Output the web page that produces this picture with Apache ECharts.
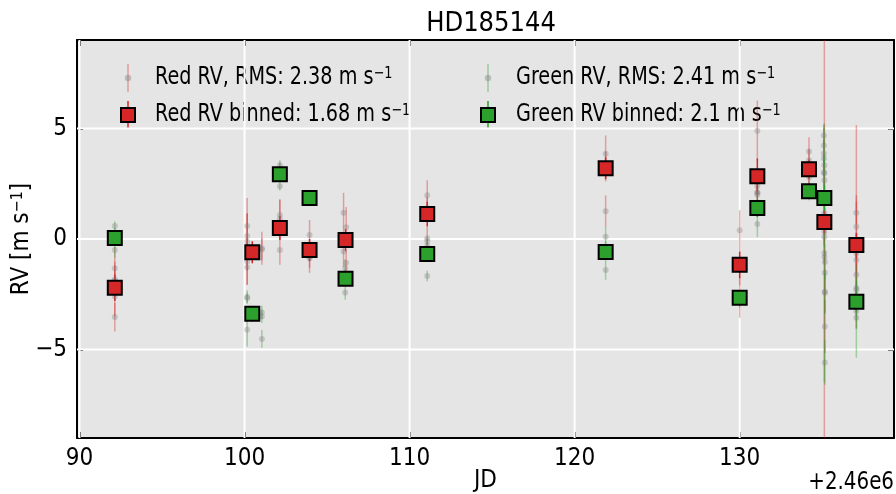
<!DOCTYPE html>
<html>
<head>
<meta charset="utf-8">
<script src="https://cdn.jsdelivr.net/npm/echarts@6/dist/echarts.min.js"></script>
<style>
  html, body { margin: 0; padding: 0; background: #ffffff; }
  #chart { width: 896px; height: 494px; }
</style>
</head>
<body>
<div id="chart"></div>
<script>
// Individual red-channel RVs: JD (minus 2.46e6), RV [m/s], 1-sigma error
const redJD = [92.14, 92.14, 92.14, 92.14, 92.14,
  100.16, 100.16, 100.16, 100.16, 100.16, 101.05, 101.05,
  102.14, 102.14, 102.14, 103.94, 103.94, 103.94,
  106.0, 106.0, 106.16, 106.16, 111.07, 111.07, 111.07,
  121.88, 121.88, 121.88, 121.88, 130.0, 130.0, 130.0,
  131.07, 131.07, 131.07, 131.07, 134.2, 134.2, 134.2, 134.2,
  135.1, 135.1, 135.1, 135.13, 135.13, 135.13, 135.13, 135.13, 135.16, 135.16, 135.16, 135.16,
  137.07, 137.07, 137.07, 137.07, 137.07, 137.07];
const redRV = [-1.32, -1.82, -2.6, -3.53, -1.9,
  0.59, 0.14, -0.12, -1.02, -1.28, -0.42, -0.47,
  1.08, -0.5, 0.9, 0.18, -0.87, -0.8,
  1.19, -0.57, 0.53, -1.07, 1.98, 1.4, 0.03,
  3.86, 3.35, 3.1, 1.26, 0.4, -1.3, -2.6,
  4.9, 2.4, 2.0, 2.1, 3.96, 3.56, 2.79, 2.3,
  4.68, 3.65, 3.02, 2.66, 1.17, 0.54, 0.09, -0.81, -1.53, -2.43, -3.96, 0.8,
  1.19, 0.55, -0.35, -0.65, -0.95, -1.62];
const redErr = [0.97, 0.8, 0.9, 0.65, 0.7,
  1.26, 1.0, 1.3, 1.05, 0.8, 0.75, 0.5,
  0.7, 0.67, 0.9, 0.68, 0.66, 0.5,
  0.9, 0.7, 0.92, 0.6, 0.68, 0.5, 0.6,
  0.82, 0.6, 0.5, 0.71, 0.9, 0.8, 0.96,
  1.36, 0.51, 0.5, 0.3, 0.64, 0.5, 0.5, 0.4,
  0.5, 0.8, 0.6, 0.7, 0.9, 0.8, 1.2, 10.5, 1.0, 0.9, 1.2, 0.6,
  0.5, 4.6, 0.6, 2.63, 0.7, 0.8];

// Individual green-channel RVs
const greenJD = [92.14, 92.14, 92.14,
  100.16, 100.16, 100.16, 101.05, 101.05, 101.05,
  102.14, 102.14, 102.14, 103.94, 103.94,
  106.1, 106.1, 106.1, 111.07, 111.07, 111.07,
  121.88, 121.88, 121.88, 130.0, 130.0,
  131.07, 131.07, 131.07, 134.2, 134.2, 134.2,
  135.1, 135.1, 135.13, 135.13, 135.13, 135.13, 135.13, 135.16, 135.16, 135.16,
  137.07, 137.07, 137.07, 137.07, 137.07, 137.07];
const greenRV = [0.59, -0.5, 0.1,
  -2.67, -2.62, -4.1, -3.32, -3.5, -4.52,
  3.33, 2.39, 3.05, 1.9, 1.8,
  -1.32, -2.42, -1.7, -1.67, -0.3, -0.1,
  0.1, -1.4, -0.5, -2.66, -2.7,
  0.68, 1.4, 2.1, 2.16, 2.0, 2.3,
  4.23, 3.87, 3.33, 2.97, 1.89, 0.32, -0.63, -1.04, -2.39, -5.59,
  -2.22, -2.6, -3.05, -3.27, -3.56, -2.3];
const greenErr = [0.2, 0.35, 0.4,
  0.24, 0.3, 0.76, 0.3, 0.3, 0.4,
  0.23, 0.2, 0.4, 0.15, 0.2,
  0.4, 0.33, 0.3, 0.25, 0.3, 0.2,
  0.45, 0.45, 0.4, 0.3, 0.4,
  0.6, 0.4, 0.3, 0.3, 0.25, 0.3,
  0.8, 0.6, 0.5, 0.7, 0.5, 0.7, 5.85, 0.8, 1.0, 1.0,
  0.5, 0.5, 0.6, 2.1, 0.5, 0.4];

// Nightly binned RVs
const binJD = [92.14, 100.47, 102.14, 103.94, 106.12, 111.07, 121.88, 130.0, 131.07, 134.2, 135.13, 137.07];
const redBinRV = [-2.2, -0.6, 0.5, -0.5, -0.05, 1.13, 3.2, -1.17, 2.84, 3.15, 0.77, -0.27];
const redBinErr = [0.6, 0.5, 0.55, 0.5, 0.5, 0.55, 0.5, 0.6, 0.8, 0.45, 0.5, 0.55];
const greenBinRV = [0.05, -3.38, 2.93, 1.85, -1.8, -0.68, -0.59, -2.66, 1.4, 2.16, 1.85, -2.84];
const greenBinErr = [0.3, 0.35, 0.3, 0.2, 0.3, 0.3, 0.35, 0.3, 0.4, 0.3, 0.6, 0.45];

// Axis ranges and ticks
const xRange = [89.85, 139.35];
const yRange = [-9, 9];
const xTicks = [90, 100, 110, 120, 130];
const yTicks = [-5, 0, 5];

const FONT = "'DejaVu Sans Condensed', 'DejaVu Sans', sans-serif";
const RED = '#d62728';
const GREEN = '#2ca02c';
const RED_ERR = 'rgba(214,39,40,0.38)';
const GREEN_ERR = 'rgba(44,160,44,0.38)';
const DOT = 'rgba(128,128,128,0.42)';

const triples = (xs, ys, es) => xs.map((x, i) => [x, ys[i], es[i]]);
const pairs = (xs, ys) => xs.map((x, i) => [x, ys[i]]);

function errorBars(color, width) {
  return function (params, api) {
    const x = api.value(0), y = api.value(1), e = api.value(2);
    const a = api.coord([x, y - e]);
    const b = api.coord([x, y + e]);
    return {
      type: 'line',
      shape: { x1: a[0], y1: a[1], x2: b[0], y2: b[1] },
      style: { stroke: color, lineWidth: width }
    };
  };
}

// white grid lines at the major ticks
function gridLine(params, api) {
  const a = api.coord([api.value(0), api.value(1)]);
  const b = api.coord([api.value(2), api.value(3)]);
  return {
    type: 'line',
    shape: { x1: a[0], y1: a[1], x2: b[0], y2: b[1] },
    style: { stroke: '#ffffff', lineWidth: 2 }
  };
}
const gridData = xTicks.map(v => [v, yRange[0], v, yRange[1]])
  .concat(yTicks.map(v => [xRange[0], v, xRange[1], v]));

const minus = v => String(v).replace('-', '\u2212');

const axisBase = {
  axisLine: { show: true, onZero: false, lineStyle: { color: '#000', width: 2 } },
  axisTick: { show: true, inside: true, length: 6, lineStyle: { color: '#000', width: 2 } },
  splitLine: { show: false }
};

function legendText(x, y, main) {
  return {
    type: 'text', x: x, y: y, scaleX: 0.89,
    style: {
      text: '{t|' + main + '}{s|\u22121}',
      verticalAlign: 'middle', align: 'left',
      rich: {
        t: { fontSize: 24, fontFamily: FONT, fill: '#000' },
        s: { fontSize: 16, fontFamily: FONT, fill: '#000', verticalAlign: 'top' }
      }
    }
  };
}

function legendPoint(cx, cy, errColor) {
  return [
    { type: 'line', shape: { x1: cx, y1: cy - 14, x2: cx, y2: cy + 14 }, style: { stroke: errColor, lineWidth: 1.5 } },
    { type: 'circle', shape: { cx: cx, cy: cy, r: 3.2 }, style: { fill: DOT } }
  ];
}

function legendBin(cx, cy, fill) {
  return [
    { type: 'line', shape: { x1: cx, y1: cy - 14, x2: cx, y2: cy + 14 }, style: { stroke: fill, lineWidth: 1.5 } },
    { type: 'rect', shape: { x: cx - 7, y: cy - 7, width: 14, height: 14 }, style: { fill: fill, stroke: '#000', lineWidth: 2 } }
  ];
}

const chart = echarts.init(document.getElementById('chart'), null, { renderer: 'canvas' });

chart.setOption({
  animation: false,
  backgroundColor: '#ffffff',
  title: {
    text: 'HD185144',
    left: 486, top: 5, textAlign: 'center',
    textStyle: { fontFamily: FONT, fontSize: 27, fontWeight: 'normal', color: '#000' }
  },
  grid: {
    left: 77, right: 2, top: 40, bottom: 56,
    show: true, backgroundColor: '#e5e5e5', borderWidth: 0,
    containLabel: false, outerBoundsMode: 'none'
  },
  xAxis: [
    Object.assign({}, axisBase, {
      type: 'value', min: xRange[0], max: xRange[1], position: 'bottom',
      name: 'JD', nameLocation: 'middle', nameGap: 31, nameMoveOverlap: false,
      nameTextStyle: { fontFamily: FONT, fontSize: 24, color: '#000' },
      axisTick: Object.assign({}, axisBase.axisTick, { customValues: xTicks }),
      axisLabel: { customValues: xTicks, margin: 9, fontFamily: FONT, fontSize: 24, color: '#000', formatter: minus }
    }),
    Object.assign({}, axisBase, {
      type: 'value', min: xRange[0], max: xRange[1], position: 'top',
      axisTick: Object.assign({}, axisBase.axisTick, { customValues: xTicks }),
      axisLabel: { show: false }
    })
  ],
  yAxis: [
    Object.assign({}, axisBase, {
      type: 'value', min: yRange[0], max: yRange[1], position: 'left',
      name: '{t|RV [m s}{s|\u22121}{t|]}', nameLocation: 'middle', nameGap: 43, nameRotate: 90,
      nameMoveOverlap: false,
      nameTextStyle: {
        rich: {
          t: { fontFamily: FONT, fontSize: 24, color: '#000' },
          s: { fontFamily: FONT, fontSize: 16, color: '#000', verticalAlign: 'top' }
        }
      },
      axisTick: Object.assign({}, axisBase.axisTick, { customValues: yTicks }),
      axisLabel: { customValues: yTicks, margin: 10, fontFamily: FONT, fontSize: 24, color: '#000', formatter: minus }
    }),
    Object.assign({}, axisBase, {
      type: 'value', min: yRange[0], max: yRange[1], position: 'right',
      axisTick: Object.assign({}, axisBase.axisTick, { customValues: yTicks }),
      axisLabel: { show: false }
    })
  ],
  graphic: [
    {
      type: 'text', x: 894, y: 483, scaleX: 0.92,
      style: { text: '+2.46e6', align: 'right', verticalAlign: 'middle', fontFamily: FONT, fontSize: 24, fill: '#000' }
    },
    ...legendPoint(128, 78, RED_ERR),
    legendText(155, 78, 'Red RV, RMS: 2.38 m s'),
    ...legendBin(128, 115, RED),
    legendText(155, 115, 'Red RV binned: 1.68 m s'),
    ...legendPoint(488, 78, GREEN_ERR),
    legendText(516, 78, 'Green RV, RMS: 2.41 m s'),
    ...legendBin(488, 115, GREEN),
    legendText(516, 115, 'Green RV binned: 2.1 m s')
  ],
  series: [
    {
      name: 'grid', type: 'custom', silent: true,
      renderItem: gridLine,
      encode: { x: [0, 2], y: [1, 3] },
      data: gridData
    },
    {
      name: 'Red RV errors', type: 'custom', clip: true,
      renderItem: errorBars(RED_ERR, 1.5),
      encode: { x: 0, y: 1 },
      data: triples(redJD, redRV, redErr)
    },
    {
      name: 'Green RV errors', type: 'custom', clip: true,
      renderItem: errorBars(GREEN_ERR, 1.5),
      encode: { x: 0, y: 1 },
      data: triples(greenJD, greenRV, greenErr)
    },
    {
      name: 'Red RV', type: 'scatter', symbol: 'circle', symbolSize: 6,
      itemStyle: { color: DOT },
      data: pairs(redJD, redRV)
    },
    {
      name: 'Green RV', type: 'scatter', symbol: 'circle', symbolSize: 6,
      itemStyle: { color: DOT },
      data: pairs(greenJD, greenRV)
    },
    {
      name: 'Red binned errors', type: 'custom', clip: true,
      renderItem: errorBars(RED, 1.5),
      encode: { x: 0, y: 1 },
      data: triples(binJD, redBinRV, redBinErr)
    },
    {
      name: 'Green binned errors', type: 'custom', clip: true,
      renderItem: errorBars(GREEN, 1.5),
      encode: { x: 0, y: 1 },
      data: triples(binJD, greenBinRV, greenBinErr)
    },
    {
      name: 'Red RV binned', type: 'scatter', symbol: 'rect', symbolSize: 14,
      itemStyle: { color: RED, borderColor: '#000', borderWidth: 2, opacity: 1 },
      data: pairs(binJD, redBinRV)
    },
    {
      name: 'Green RV binned', type: 'scatter', symbol: 'rect', symbolSize: 14,
      itemStyle: { color: GREEN, borderColor: '#000', borderWidth: 2, opacity: 1 },
      data: pairs(binJD, greenBinRV)
    }
  ]
});
</script>
</body>
</html>
